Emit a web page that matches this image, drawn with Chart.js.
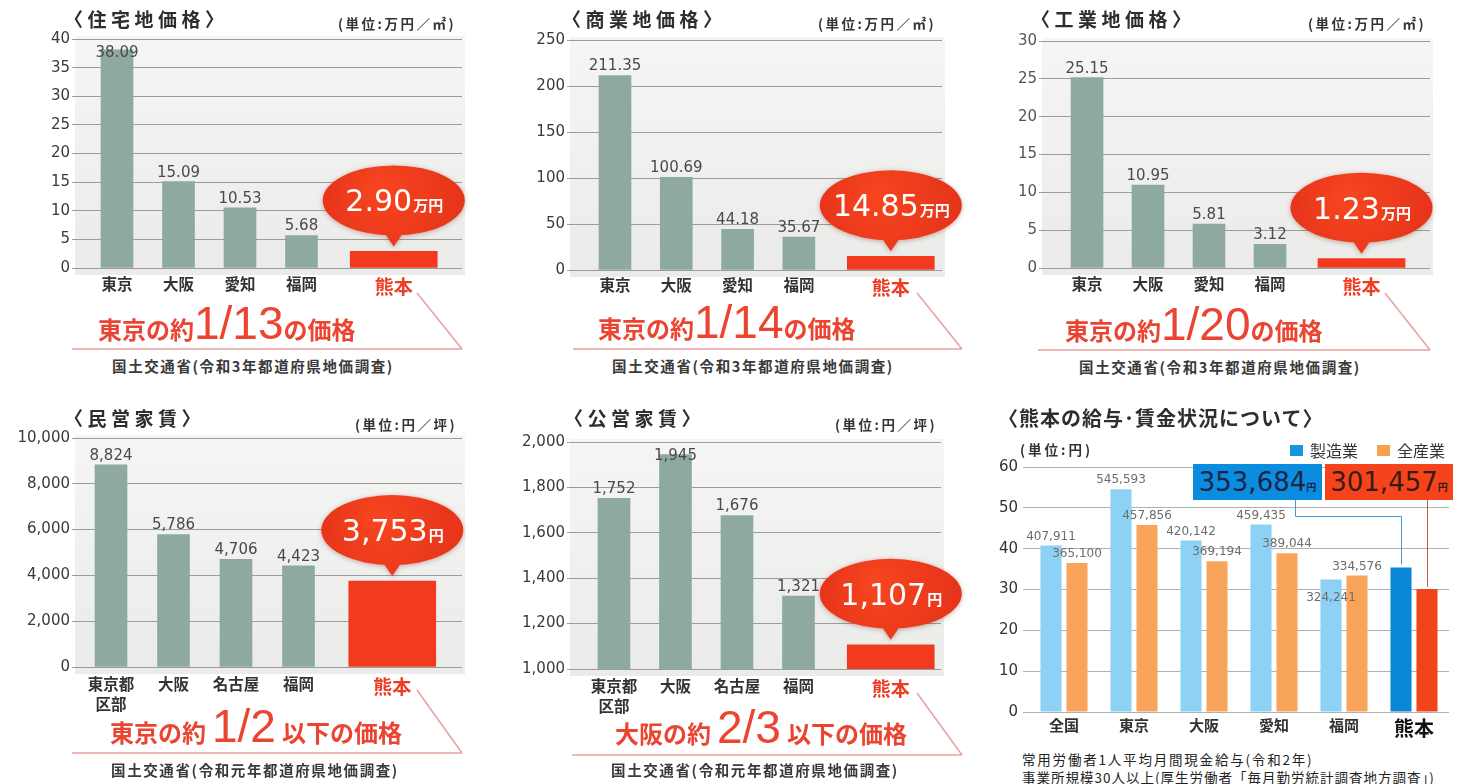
<!DOCTYPE html>
<html>
<head>
<meta charset="utf-8">
<script src="https://cdn.jsdelivr.net/npm/chart.js@4.4.1/dist/chart.umd.min.js"></script>
<style>
  body { margin: 0; width: 1458px; height: 784px; overflow: hidden; position: relative; background: #fff; }
  canvas { position: absolute; }
  .t { position: absolute; white-space: nowrap; color: #333; line-height: 1; font-family: "Noto Sans CJK JP", sans-serif; }
  .titulo { font-size: 19px; font-weight: bold; letter-spacing: 4.5px; color: #2e2e2e; }
  .unidad { font-size: 13.5px; font-weight: bold; letter-spacing: 2.5px; color: #333; }
  .fuente { font-size: 14.5px; font-weight: bold; color: #3a3a3a; text-align: center; width: 420px; letter-spacing: 1.6px; }
  .cap { position: absolute; display: flex; align-items: baseline; white-space: nowrap; color: #eb4431; }
  .cap .cj { font-family: "Noto Sans CJK JP", sans-serif; font-weight: bold; font-size: 24px; line-height: 1; }
  .cap .cn { font-family: "Liberation Sans", sans-serif; font-size: 46px; line-height: 1; }
  .caja { position: absolute; display: flex; align-items: baseline; justify-content: center; height: 36px; line-height: 36px; }
  .caja .n { font-family: "DejaVu Sans", sans-serif; font-size: 26px; }
  .caja .u { font-family: "Noto Sans CJK JP", sans-serif; font-size: 10px; font-weight: bold; }
  .sq { position: absolute; width: 13px; height: 11px; }
  svg { position: absolute; left: 0; top: 0; }
</style>
</head>
<body>

<svg width="1458" height="784">
  <g stroke="#e9a0a0" stroke-width="1.5" fill="none">
    <line x1="72" y1="349" x2="462" y2="349"/>
    <line x1="417" y1="293" x2="462" y2="349"/>
    <line x1="573" y1="349" x2="962" y2="349"/>
    <line x1="917" y1="293" x2="962" y2="349"/>
    <line x1="1038" y1="350" x2="1430" y2="350"/>
    <line x1="1385" y1="293" x2="1430" y2="350"/>
    <line x1="72" y1="753" x2="462" y2="753"/>
    <line x1="417" y1="690" x2="462" y2="753"/>
    <line x1="572" y1="755" x2="962" y2="755"/>
    <line x1="917" y1="693" x2="962" y2="755"/>
  </g>
</svg>

<canvas id="c1" width="480" height="290" style="left:0px;top:19px"></canvas>
<canvas id="c2" width="480" height="290" style="left:490px;top:20px"></canvas>
<canvas id="c3" width="470" height="288" style="left:980px;top:21px"></canvas>
<canvas id="c4" width="480" height="300" style="left:0px;top:418px"></canvas>
<canvas id="c5" width="480" height="298" style="left:490px;top:422px"></canvas>
<canvas id="c6" width="478" height="298" style="left:980px;top:447px"></canvas>

<!-- 住宅地 -->
<div class="t titulo" style="left:64px;top:9px">〈住宅地価格〉</div>
<div class="t unidad" style="left:338px;top:17px">(単位:万円／㎡)</div>
<div class="cap" style="left:98px;top:300px"><span class="cj">東京の約</span><span class="cn">1/13</span><span class="cj">の価格</span></div>
<div class="t fuente" style="left:43px;top:359px">国土交通省(令和3年都道府県地価調査)</div>

<!-- 商業地 -->
<div class="t titulo" style="left:562px;top:9px">〈商業地価格〉</div>
<div class="t unidad" style="left:818px;top:17px">(単位:万円／㎡)</div>
<div class="cap" style="left:598px;top:299px"><span class="cj">東京の約</span><span class="cn">1/14</span><span class="cj">の価格</span></div>
<div class="t fuente" style="left:543px;top:359px">国土交通省(令和3年都道府県地価調査)</div>

<!-- 工業地 -->
<div class="t titulo" style="left:1031px;top:9px">〈工業地価格〉</div>
<div class="t unidad" style="left:1308px;top:17px">(単位:万円／㎡)</div>
<div class="cap" style="left:1065px;top:301px"><span class="cj">東京の約</span><span class="cn">1/20</span><span class="cj">の価格</span></div>
<div class="t fuente" style="left:1010px;top:360px">国土交通省(令和3年都道府県地価調査)</div>

<!-- 民営家賃 -->
<div class="t titulo" style="left:64px;top:408px">〈民営家賃〉</div>
<div class="t unidad" style="left:355px;top:418px">(単位:円／坪)</div>
<div class="cap" style="left:110px;top:703px"><span class="cj">東京の約</span><span class="cn" style="margin:0 6px">1/2</span><span class="cj">以下の価格</span></div>
<div class="t fuente" style="left:45px;top:763px">国土交通省(令和元年都道府県地価調査)</div>

<!-- 公営家賃 -->
<div class="t titulo" style="left:564px;top:408px">〈公営家賃〉</div>
<div class="t unidad" style="left:835px;top:418px">(単位:円／坪)</div>
<div class="cap" style="left:615px;top:704px"><span class="cj">大阪の約</span><span class="cn" style="margin:0 6px">2/3</span><span class="cj">以下の価格</span></div>
<div class="t fuente" style="left:545px;top:763px">国土交通省(令和元年都道府県地価調査)</div>

<!-- 給与 -->
<div class="t titulo" style="left:998px;top:408px;font-size:20px;letter-spacing:1px">〈熊本の給与･賃金状況について〉</div>
<div class="t unidad" style="left:1020px;top:443px;letter-spacing:3px">(単位:円)</div>
<div class="sq" style="left:1290px;top:445px;background:#1a93e0"></div>
<div class="t" style="left:1310px;top:442px;font-size:16px">製造業</div>
<div class="sq" style="left:1377px;top:445px;background:#f9a050"></div>
<div class="t" style="left:1397px;top:442px;font-size:16px">全産業</div>
<div class="caja" style="left:1193px;top:464px;width:129px;background:#0b8ddf;color:#1c2448"><span class="n">353,684</span><span class="u">円</span></div>
<div class="caja" style="left:1325px;top:464px;width:128px;background:#f5441b;color:#3b1a14"><span class="n">301,457</span><span class="u">円</span></div>
<div class="t" style="left:1022px;top:753px;font-size:13.5px;letter-spacing:1.8px;color:#222">常用労働者1人平均月間現金給与(令和2年)</div>
<div class="t" style="left:1022px;top:771px;font-size:13.5px;letter-spacing:1px;color:#222">事業所規模30人以上(厚生労働者「毎月勤労統計調査地方調査」)</div>

<script>
// 地価 (万円/㎡)
const cat_chika = ["東京", "大阪", "愛知", "福岡", "熊本"];
const jutakuchi = [38.09, 15.09, 10.53, 5.68, 2.90];
const shogyochi = [211.35, 100.69, 44.18, 35.67, 14.85];
const kogyochi = [25.15, 10.95, 5.81, 3.12, 1.23];
const eje_jutaku = [0, 40, 5];
const eje_shogyo = [0, 250, 50];
const eje_kogyo = [0, 30, 5];

// 家賃 (円/坪)
const cat_yachin = [["東京都", "区部"], "大阪", "名古屋", "福岡", "熊本"];
const minei = [8824, 5786, 4706, 4423, 3753];
const koei = [1752, 1945, 1676, 1321, 1107];
const eje_minei = [0, 10000, 2000];
const eje_koei = [1000, 2000, 200];

// 給与 (円)
const cat_kyuyo = ["全国", "東京", "大阪", "愛知", "福岡", "熊本"];
const seizogyo = [407911, 545593, 420142, 459435, 324241, 353684];
const zensangyo = [365100, 457856, 369194, 389044, 334576, 301457];
const eje_kyuyo = [0, 60, 10];

const NUM = '"DejaVu Sans", sans-serif';
const JP = '"Noto Sans CJK JP", sans-serif';
const VERDE = "#8eaa9f";
const ROJO = "#f23a1f";

const fondo = {
  id: "fondo",
  beforeDraw(chart) {
    const { ctx, chartArea: a } = chart;
    const g = ctx.createLinearGradient(0, a.top, 0, a.bottom);
    g.addColorStop(0, "#f5f5f3");
    g.addColorStop(1, "#ebebe9");
    ctx.save();
    ctx.fillStyle = g;
    ctx.fillRect(a.left, a.top - 3, a.width + 3, a.height + 10);
    ctx.restore();
  },
};

function etiquetas(cfg) {
  return {
    id: "etiquetas",
    afterDatasetsDraw(chart) {
      const { ctx, chartArea: a } = chart;
      ctx.save();
      ctx.font = "15px " + NUM;
      ctx.fillStyle = "#4a4a4a";
      ctx.textAlign = "center";
      ctx.textBaseline = "middle";
      chart.getDatasetMeta(0).data.forEach((bar, i) => {
        const y = Math.min(Math.max(bar.y - 9, a.top + 14), a.bottom - 30);
        ctx.fillText(cfg.formato(cfg.valores[i]), bar.x, y);
      });
      ctx.restore();
    },
  };
}

function globo(cfg) {
  return {
    id: "globo",
    afterDatasetsDraw(chart) {
      const { ctx } = chart;
      const bar = chart.getDatasetMeta(1).data[0];
      const cx = bar.x, tip = bar.y - 5, cy = tip - 46;
      ctx.save();
      ctx.shadowColor = "rgba(110,20,0,0.35)";
      ctx.shadowBlur = 5;
      ctx.shadowOffsetY = 1;
      const g = ctx.createRadialGradient(cx - 15, cy - 12, 5, cx, cy, 76);
      g.addColorStop(0, "#f6451f");
      g.addColorStop(1, "#e5321a");
      ctx.fillStyle = g;
      ctx.beginPath();
      ctx.ellipse(cx, cy, 71, 35, 0, 0, Math.PI * 2);
      ctx.moveTo(cx + 11, cy + 30);
      ctx.lineTo(cx, tip);
      ctx.lineTo(cx - 11, cy + 30);
      ctx.closePath();
      ctx.fill();
      ctx.shadowColor = "transparent";
      ctx.fillStyle = "#fff";
      const num = cfg.formato(cfg.valores[4]);
      ctx.font = "30px " + NUM;
      const w1 = ctx.measureText(num).width;
      ctx.font = "bold 15px " + JP;
      const w2 = ctx.measureText(cfg.unidad).width;
      const x = cx - (w1 + w2) / 2;
      ctx.textAlign = "left";
      ctx.textBaseline = "alphabetic";
      ctx.font = "30px " + NUM;
      ctx.fillText(num, x, cy + 11);
      ctx.font = "bold 15px " + JP;
      ctx.fillText(cfg.unidad, x + w1 + 1, cy + 11);
      ctx.restore();
    },
  };
}

function graficaBarras(id, cfg) {
  const lienzo = document.getElementById(id);
  const top = parseFloat(lienzo.style.top), left = parseFloat(lienzo.style.left);
  const [al, at, ar, ab] = cfg.area;
  const posiciones = cfg.categorias.map((c, i) => (i < 4 ? i : i + 0.5));
  const grises = cfg.valores.slice(0, 4).map((v, i) => ({ x: posiciones[i], y: v }));
  const rojo = [{ x: posiciones[4], y: cfg.valores[4] }];
  return new Chart(lienzo, {
    type: "bar",
    data: {
      datasets: [
        { data: grises, backgroundColor: VERDE, barThickness: 32, grouped: false },
        { data: rojo, backgroundColor: ROJO, barThickness: 87, grouped: false },
      ],
    },
    options: {
      responsive: false,
      animation: false,
      layout: { autoPadding: false, padding: { top: at - top, right: left + lienzo.width - ar, left: 0, bottom: 0 } },
      plugins: { legend: { display: false }, tooltip: { enabled: false } },
      scales: {
        x: {
          type: "linear",
          offset: false,
          min: cfg.xmin,
          max: cfg.xmax,
          grid: { display: false, drawTicks: false },
          border: { display: false },
          afterBuildTicks: (s) => { s.ticks = posiciones.map((v) => ({ value: v })); },
          afterFit: (s) => { s.height = top + lienzo.height - ab; },
          ticks: {
            autoSkip: false,
            maxRotation: 0,
            padding: cfg.padX,
            callback: (v, i) => cfg.categorias[i],
            color: (c) => (c.index === 4 ? "#ee3b24" : "#333"),
            font: (c) => ({ family: JP, size: c.index === 4 ? 19 : 15.5, weight: "bold", lineHeight: 1.3 }),
          },
        },
        y: {
          min: cfg.eje[0],
          max: cfg.eje[1],
          afterFit: (s) => { s.width = al - left; },
          grid: { color: "#9c9c9c", tickLength: 3 },
          border: { display: false },
          ticks: {
            stepSize: cfg.eje[2],
            padding: 2,
            color: cfg.colorEje || "#3a3a3a",
            font: { family: NUM, size: 15 },
            callback: (v) => v.toLocaleString("en-US"),
          },
        },
      },
    },
    plugins: [fondo, etiquetas(cfg), globo(cfg)],
  });
}

const dec2 = (v) => v.toFixed(2);
const miles = (v) => v.toLocaleString("en-US");

graficaBarras("c1", { categorias: cat_chika, valores: jutakuchi, eje: eje_jutaku, area: [75, 39, 462, 268], xmin: -0.683, xmax: 5.61, padX: 6, formato: dec2, unidad: "万円" });
graficaBarras("c2", { categorias: cat_chika, valores: shogyochi, eje: eje_shogyo, area: [570, 40, 942, 270], xmin: -0.734, xmax: 5.335, padX: 5, formato: dec2, unidad: "万円" });
graficaBarras("c3", { categorias: cat_chika, valores: kogyochi, eje: eje_kogyo, area: [1042, 41, 1430, 268], xmin: -0.738, xmax: 5.623, padX: 6, formato: dec2, unidad: "万円", colorEje: "#555" });
graficaBarras("c4", { categorias: cat_yachin, valores: minei, eje: eje_minei, area: [75, 438, 462, 667], xmin: -0.576, xmax: 5.616, padX: 7, formato: miles, unidad: "円" });
graficaBarras("c5", { categorias: cat_yachin, valores: koei, eje: eje_koei, area: [570, 442, 941, 669], xmin: -0.715, xmax: 5.317, padX: 7, formato: miles, unidad: "円" });

// 給与
const salario = {
  id: "salario",
  afterDatasetsDraw(chart) {
    const { ctx } = chart;
    const mB = chart.getDatasetMeta(0), mO = chart.getDatasetMeta(1);
    ctx.save();
    ctx.font = "12px " + NUM;
    ctx.fillStyle = "#6d6d6d";
    ctx.textAlign = "center";
    ctx.textBaseline = "middle";
    const k = cat_kyuyo.length - 1;
    for (let i = 0; i < k; i++) {
      const b = mB.data[i], o = mO.data[i];
      let yb = b.y - 9, yo = o.y - 9;
      if (Math.abs(yb - yo) < 13) {
        if (seizogyo[i] < zensangyo[i]) yb = b.y + 18;
        else yo = o.y + 18;
      }
      ctx.fillText(seizogyo[i].toLocaleString("en-US"), b.x, yb);
      ctx.fillText(zensangyo[i].toLocaleString("en-US"), o.x, yo);
    }
    // líneas desde los recuadros (recuadros en x 1295 / 1430 de la página, y 500)
    const b = mB.data[k], o = mO.data[k];
    ctx.lineWidth = 1;
    ctx.strokeStyle = "#3d9bdc";
    ctx.beginPath();
    ctx.moveTo(315.5, 53);
    ctx.lineTo(315.5, 69.5);
    ctx.lineTo(Math.round(b.x) + 0.5, 69.5);
    ctx.lineTo(Math.round(b.x) + 0.5, b.y - 3);
    ctx.stroke();
    ctx.strokeStyle = "#c4563a";
    ctx.beginPath();
    ctx.moveTo(Math.round(o.x) + 0.5, 53);
    ctx.lineTo(Math.round(o.x) + 0.5, o.y - 2);
    ctx.stroke();
    ctx.restore();
  },
};

new Chart(document.getElementById("c6"), {
  type: "bar",
  data: {
    labels: cat_kyuyo,
    datasets: [
      {
        label: "製造業",
        data: seizogyo.map((v) => v / 10000),
        backgroundColor: (c) => (c.dataIndex === 5 ? "#0b87d8" : "#8dd2f5"),
        barPercentage: 0.81,
        categoryPercentage: 0.743,
      },
      {
        label: "全産業",
        data: zensangyo.map((v) => v / 10000),
        backgroundColor: (c) => (c.dataIndex === 5 ? "#f2441b" : "#f9a45b"),
        barPercentage: 0.81,
        categoryPercentage: 0.743,
      },
    ],
  },
  options: {
    responsive: false,
    animation: false,
    layout: { autoPadding: false, padding: { top: 20, right: 9, left: 0, bottom: 0 } },
    plugins: { legend: { display: false }, tooltip: { enabled: false } },
    scales: {
      x: {
        grid: { display: false, drawTicks: false },
        border: { display: false },
        afterFit: (s) => { s.height = 33; },
        ticks: {
          padding: 4,
          color: (c) => (c.index === 5 ? "#111" : "#333"),
          font: (c) => ({ family: JP, size: c.index === 5 ? 20 : 15, weight: "bold" }),
        },
      },
      y: {
        min: eje_kyuyo[0],
        max: eje_kyuyo[1],
        afterFit: (s) => { s.width = 49; },
        grid: { color: "#b0b0b0", tickLength: 6 },
        border: { display: false },
        ticks: { stepSize: eje_kyuyo[2], padding: 5, color: "#333", font: { family: NUM, size: 15 } },
      },
    },
  },
  plugins: [salario],
});
</script>
</body>
</html>
